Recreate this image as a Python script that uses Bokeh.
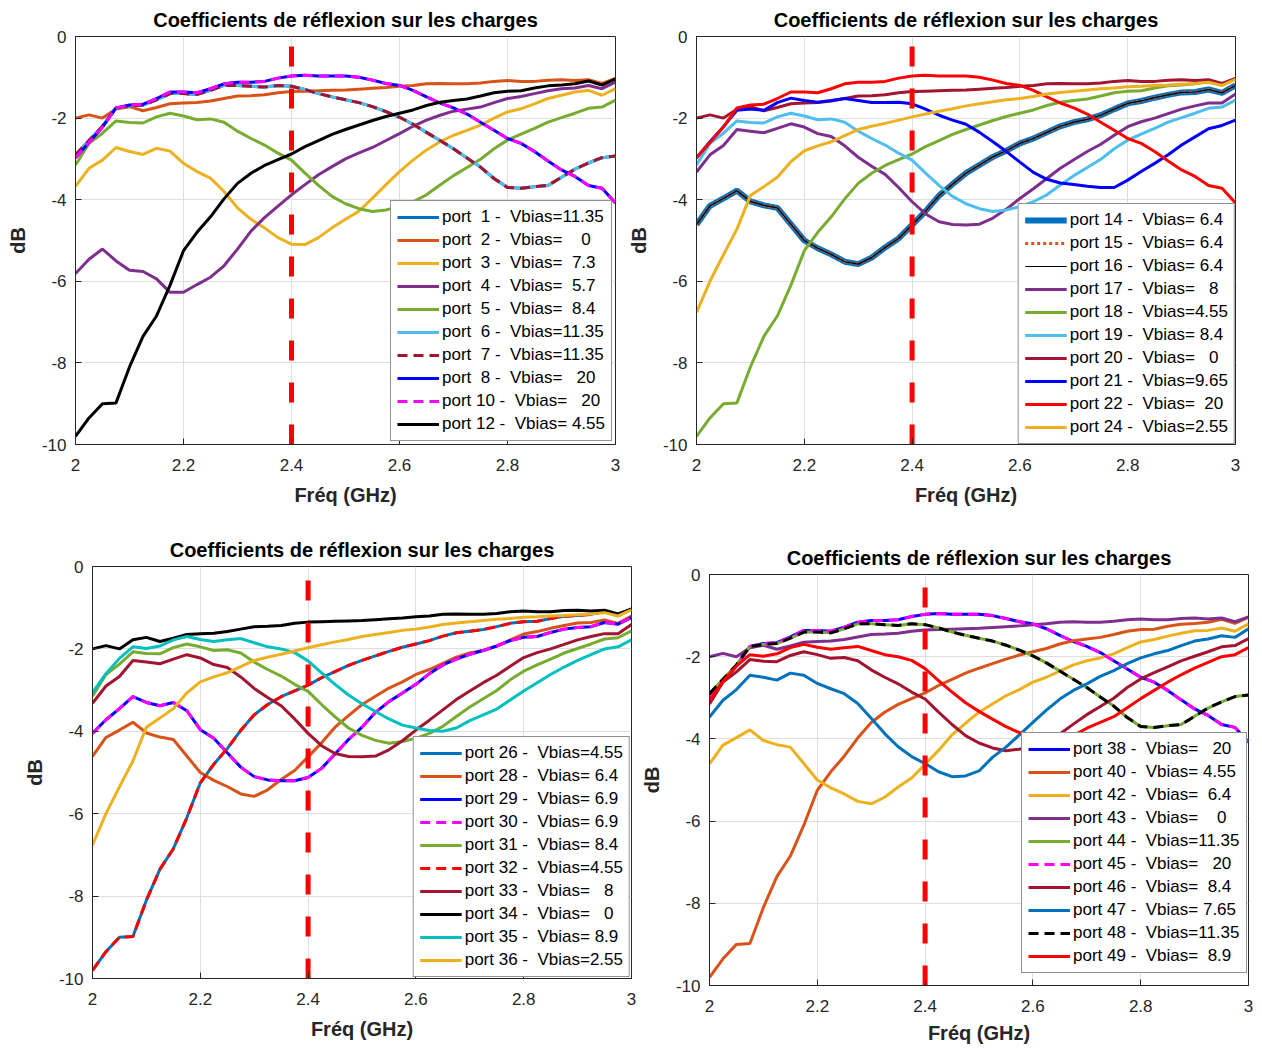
import numpy as np
from bokeh.plotting import figure
from bokeh.layouts import column, row
from bokeh.models import Range1d, FixedTicker, Legend, LegendItem, Spacer
from bokeh.embed import file_html
from bokeh.resources import INLINE

# ---------------- data ----------------
freq = np.linspace(2.0, 3.0, 41)  # GHz sampling grid

v20 = [-2.97, -2.6, -2.22, -1.75, -1.68, -1.66, -1.52, -1.36, -1.36, -1.38, -1.28, -1.16, -1.12, -1.12,
       -1.10, -1.02, -0.97, -0.95, -0.97, -0.97, -0.97, -1.0, -1.07, -1.15, -1.2, -1.32, -1.48, -1.63,
       -1.75, -1.9, -2.1, -2.3, -2.5, -2.62, -2.82, -3.05, -3.27, -3.43, -3.65, -3.72, -4.08]
v1135 = [-2.9, -2.55, -2.2, -1.75, -1.7, -1.68, -1.55, -1.4, -1.4, -1.42, -1.32, -1.2, -1.2, -1.22,
         -1.24, -1.2, -1.22, -1.3, -1.4, -1.48, -1.55, -1.62, -1.72, -1.84, -1.98, -2.15, -2.35, -2.55,
         -2.75, -2.98, -3.2, -3.48, -3.7, -3.72, -3.68, -3.65, -3.45, -3.25, -3.1, -2.97, -2.93]
v0 = [-2.0, -1.92, -2.0, -1.78, -1.72, -1.82, -1.74, -1.65, -1.63, -1.62, -1.58, -1.52, -1.46, -1.45,
      -1.43, -1.38, -1.35, -1.34, -1.33, -1.32, -1.31, -1.29, -1.27, -1.25, -1.22, -1.2, -1.16, -1.15,
      -1.16, -1.16, -1.14, -1.1, -1.08, -1.1, -1.1, -1.07, -1.06, -1.08, -1.06, -1.15, -1.03]
v455 = [-9.8, -9.35, -9.0, -8.98, -8.1, -7.35, -6.85, -6.1, -5.25, -4.8, -4.42, -3.98, -3.6, -3.35,
        -3.16, -3.02, -2.88, -2.7, -2.55, -2.4, -2.28, -2.17, -2.06, -1.96, -1.88, -1.8, -1.69, -1.61,
        -1.57, -1.53, -1.46, -1.38, -1.34, -1.33, -1.26, -1.21, -1.19, -1.16, -1.09, -1.19, -1.04]
v255 = [-6.76, -6.0, -5.35, -4.72, -3.9, -3.68, -3.45, -3.07, -2.8, -2.68, -2.58, -2.43, -2.28, -2.2,
        -2.13, -2.05, -1.97, -1.9, -1.83, -1.77, -1.7, -1.65, -1.6, -1.55, -1.52, -1.47, -1.41, -1.37,
        -1.34, -1.31, -1.28, -1.26, -1.23, -1.22, -1.2, -1.19, -1.17, -1.15, -1.12, -1.2, -1.05]
v64 = [-4.61, -4.15, -3.97, -3.78, -4.04, -4.14, -4.2, -4.6, -5.0, -5.19, -5.34, -5.52, -5.58, -5.42,
       -5.17, -4.95, -4.62, -4.28, -3.9, -3.62, -3.35, -3.15, -2.95, -2.8, -2.62, -2.5, -2.35, -2.2,
       -2.1, -2.03, -1.93, -1.78, -1.64, -1.58, -1.5, -1.43, -1.37, -1.36, -1.3, -1.38, -1.2]
v73 = [-3.67, -3.23, -3.03, -2.72, -2.82, -2.89, -2.74, -2.81, -3.11, -3.31, -3.47, -3.8, -4.2, -4.48,
       -4.69, -4.93, -5.09, -5.1, -4.93, -4.69, -4.48, -4.28, -3.96, -3.63, -3.31, -3.03, -2.78, -2.58,
       -2.42, -2.3, -2.17, -2.0, -1.85, -1.77, -1.65, -1.52, -1.44, -1.36, -1.32, -1.44, -1.28]
v57 = [-5.81, -5.46, -5.21, -5.5, -5.73, -5.76, -5.94, -6.27, -6.27, -6.08, -5.9, -5.62, -5.21, -4.77,
       -4.44, -4.16, -3.88, -3.63, -3.39, -3.19, -3.0, -2.85, -2.72, -2.55, -2.38, -2.2, -2.05, -1.93,
       -1.83, -1.78, -1.73, -1.62, -1.52, -1.47, -1.4, -1.33, -1.28, -1.26, -1.2, -1.28, -1.12]
v84 = [-3.15, -2.62, -2.37, -2.07, -2.11, -2.12, -1.97, -1.88, -1.95, -2.04, -2.02, -2.1, -2.32, -2.5,
       -2.66, -2.86, -3.03, -3.35, -3.65, -3.92, -4.1, -4.22, -4.29, -4.25, -4.17, -4.05, -3.88, -3.64,
       -3.41, -3.21, -3.01, -2.75, -2.54, -2.39, -2.25, -2.1, -1.99, -1.88, -1.76, -1.73, -1.56]
v8 = [-3.32, -2.9, -2.67, -2.28, -2.32, -2.36, -2.25, -2.14, -2.22, -2.38, -2.45, -2.68, -2.96, -3.18,
      -3.38, -3.7, -4.05, -4.35, -4.54, -4.61, -4.62, -4.6, -4.45, -4.23, -3.97, -3.73, -3.48, -3.23,
      -3.02, -2.82, -2.64, -2.42, -2.21, -2.09, -2.0, -1.89, -1.78, -1.7, -1.63, -1.63, -1.41]
v965 = [-2.97, -2.58, -2.21, -1.81, -1.78, -1.81, -1.62, -1.51, -1.57, -1.61, -1.57, -1.52, -1.57, -1.62,
        -1.62, -1.61, -1.65, -1.78, -1.93, -2.05, -2.15, -2.35, -2.58, -2.82, -3.08, -3.33, -3.5, -3.59,
        -3.63, -3.67, -3.7, -3.7, -3.52, -3.31, -3.11, -2.9, -2.66, -2.46, -2.26, -2.18, -2.05]
v69 = [-4.05, -3.72, -3.45, -3.16, -3.3, -3.38, -3.3, -3.5, -3.96, -4.17, -4.52, -4.87, -5.1, -5.18,
       -5.2, -5.2, -5.12, -4.9, -4.55, -4.2, -3.9, -3.54, -3.28, -3.07, -2.86, -2.6, -2.39, -2.25,
       -2.13, -2.04, -1.93, -1.8, -1.72, -1.7, -1.6, -1.52, -1.48, -1.46, -1.36, -1.4, -1.24]
v89 = [-3.06, -2.6, -2.23, -1.95, -1.99, -1.93, -1.78, -1.7, -1.77, -1.82, -1.78, -1.75, -1.85, -1.95,
       -2.0, -2.09, -2.29, -2.58, -2.86, -3.12, -3.33, -3.52, -3.7, -3.85, -3.92, -3.98, -4.0, -3.92,
       -3.74, -3.6, -3.46, -3.24, -3.02, -2.82, -2.62, -2.44, -2.28, -2.14, -2.0, -1.95, -1.78]
v765 = [-3.47, -3.06, -2.8, -2.45, -2.5, -2.57, -2.4, -2.45, -2.65, -2.78, -2.9, -3.14, -3.5, -3.87,
        -4.19, -4.43, -4.6, -4.8, -4.92, -4.9, -4.78, -4.45, -4.2, -3.9, -3.6, -3.3, -3.03, -2.82,
        -2.66, -2.48, -2.34, -2.17, -2.03, -1.93, -1.85, -1.73, -1.62, -1.57, -1.49, -1.53, -1.32]

marker_freq = [2.4, 2.4]
marker_db = [-10, 0]

x_ticks = [2, 2.2, 2.4, 2.6, 2.8, 3]
x_tick_labels = ["2", "2.2", "2.4", "2.6", "2.8", "3"]
y_ticks = [-10, -8, -6, -4, -2, 0]
y_tick_labels = ["-10", "-8", "-6", "-4", "-2", "0"]

TITLE = "Coefficients de réflexion sur les charges"

# MATLAB colours
C_BLUE = "#0072BD"; C_ORANGE = "#D95319"; C_YELLOW = "#EDB120"; C_PURPLE = "#7E2F8E"
C_GREEN = "#77AC30"; C_LBLUE = "#4DBEEE"; C_DRED = "#A2142F"
C_B = "#0000FF"; C_M = "#FF00FF"; C_K = "#000000"; C_R = "#FF0000"; C_C = "#00BFBF"

S = "solid"; D = "10 6"; DOT = "3 3"

panel1 = [
    ("port  1 -  Vbias=11.35", v1135, C_BLUE, 3, S),
    ("port  2 -  Vbias=    0", v0, C_ORANGE, 3, S),
    ("port  3 -  Vbias=  7.3", v73, C_YELLOW, 3, S),
    ("port  4 -  Vbias=  5.7", v57, C_PURPLE, 3, S),
    ("port  5 -  Vbias=  8.4", v84, C_GREEN, 3, S),
    ("port  6 -  Vbias=11.35", v1135, C_LBLUE, 3, S),
    ("port  7 -  Vbias=11.35", v1135, C_DRED, 3, D),
    ("port  8 -  Vbias=   20", v20, C_B, 3, S),
    ("port 10 -  Vbias=   20", v20, C_M, 3, D),
    ("port 12 -  Vbias= 4.55", v455, C_K, 3, S),
]
panel2 = [
    ("port 14 -  Vbias= 6.4", v64, C_BLUE, 6, S),
    ("port 15 -  Vbias= 6.4", v64, C_ORANGE, 3, DOT),
    ("port 16 -  Vbias= 6.4", v64, C_K, 1.2, S),
    ("port 17 -  Vbias=   8", v8, C_PURPLE, 3, S),
    ("port 18 -  Vbias=4.55", v455, C_GREEN, 3, S),
    ("port 19 -  Vbias= 8.4", v84, C_LBLUE, 3, S),
    ("port 20 -  Vbias=   0", v0, C_DRED, 3, S),
    ("port 21 -  Vbias=9.65", v965, C_B, 3, S),
    ("port 22 -  Vbias=  20", v20, C_R, 3, S),
    ("port 24 -  Vbias=2.55", v255, C_YELLOW, 3, S),
]
panel3 = [
    ("port 26 -  Vbias=4.55", v455, C_BLUE, 3, S),
    ("port 28 -  Vbias= 6.4", v64, C_ORANGE, 3, S),
    ("port 29 -  Vbias= 6.9", v69, C_B, 3, S),
    ("port 30 -  Vbias= 6.9", v69, C_M, 3, D),
    ("port 31 -  Vbias= 8.4", v84, C_GREEN, 3, S),
    ("port 32 -  Vbias=4.55", v455, C_R, 3, D),
    ("port 33 -  Vbias=   8", v8, C_DRED, 3, S),
    ("port 34 -  Vbias=   0", v0, C_K, 3, S),
    ("port 35 -  Vbias= 8.9", v89, C_C, 3, S),
    ("port 36 -  Vbias=2.55", v255, C_YELLOW, 3, S),
]
panel4 = [
    ("port 38 -  Vbias=   20", v20, C_B, 3, S),
    ("port 40 -  Vbias= 4.55", v455, C_ORANGE, 3, S),
    ("port 42 -  Vbias=  6.4", v64, C_YELLOW, 3, S),
    ("port 43 -  Vbias=    0", v0, C_PURPLE, 3, S),
    ("port 44 -  Vbias=11.35", v1135, C_GREEN, 3, S),
    ("port 45 -  Vbias=   20", v20, C_M, 3, D),
    ("port 46 -  Vbias=  8.4", v84, C_DRED, 3, S),
    ("port 47 -  Vbias= 7.65", v765, C_BLUE, 3, S),
    ("port 48 -  Vbias=11.35", v1135, C_K, 3, D),
    ("port 49 -  Vbias=  8.9", v89, C_R, 3, S),
]

FONT = "Liberation Sans"
AX = "#262626"


def make_panel(series, width, height, left, right, top, bottom, legend_loc, legend_margin,
               xlab_standoff=10):
    p = figure(width=width, height=height, output_backend="svg", toolbar_location=None,
               x_range=Range1d(2, 3), y_range=Range1d(-10, 0), title=TITLE,
               min_border_left=left, min_border_right=right, min_border_top=top,
               min_border_bottom=bottom, background_fill_color="white",
               border_fill_color="white")
    p.title.text_font = FONT
    p.title.text_font_size = "20px"
    p.title.text_font_style = "bold"
    p.title.text_color = "#000000"
    p.title.align = "center"
    p.title.offset = 0
    p.title.standoff = 12

    items = []
    for label, data, color, lw, dash in series:
        r = p.line(freq, data, line_color=color, line_width=lw, line_dash=dash)
        items.append(LegendItem(label=label, renderers=[r]))
    p.line(marker_freq, marker_db, line_color="#FF0000", line_width=5, line_dash="20 22")

    p.xaxis.ticker = FixedTicker(ticks=x_ticks)
    p.xaxis.major_label_overrides = dict(zip(x_ticks, x_tick_labels))
    p.yaxis.ticker = FixedTicker(ticks=y_ticks)
    p.yaxis.major_label_overrides = dict(zip(y_ticks, y_tick_labels))
    p.xaxis.axis_label = "Fréq (GHz)"
    p.yaxis.axis_label = "dB"
    for ax in (p.xaxis[0], p.yaxis[0]):
        ax.axis_label_text_font = FONT
        ax.axis_label_text_font_size = "20px"
        ax.axis_label_text_font_style = "bold"
        ax.axis_label_text_color = AX
        ax.major_label_text_font = FONT
        ax.major_label_text_font_size = "17px"
        ax.major_label_text_color = AX
        ax.major_tick_in = 6
        ax.major_tick_out = 0
        ax.minor_tick_line_color = None
        ax.major_tick_line_color = AX
        ax.axis_line_color = AX
    p.yaxis.major_label_standoff = 9
    p.yaxis.axis_label_standoff = 10
    p.xaxis.major_label_standoff = 14
    p.xaxis.axis_label_standoff = xlab_standoff

    p.grid.grid_line_color = "#DEDEDE"
    p.grid.grid_line_width = 1
    p.outline_line_color = AX
    p.outline_line_width = 1
    p.outline_line_alpha = 1

    leg = Legend(items=items, location=legend_loc, margin=legend_margin)
    leg.label_text_font = FONT
    leg.label_text_font_size = "17px"
    leg.label_text_color = "#000000"
    leg.glyph_width = 42
    leg.glyph_height = 20
    leg.label_height = 20
    leg.label_standoff = 3
    leg.spacing = 3
    leg.padding = 6
    leg.border_line_color = AX
    leg.border_line_width = 1
    leg.background_fill_alpha = 1
    p.add_layout(leg)
    return p


p1 = make_panel(panel1, 623, 514, 75, 8, 34, 70, "bottom_right", 3)
p2 = make_panel(panel2, 631, 514, 73, 19, 34, 70, "bottom_right", 0)
p3 = make_panel(panel3, 636, 532, 92, 5, 52, 68, "bottom_right", 1)
p4 = make_panel(panel4, 618, 529, 73, 6, 52, 66, (312, 12), 0, xlab_standoff=7)

layout = column(row(p1, p2, spacing=0),
                row(p3, column(Spacer(width=618, height=8), p4, spacing=0), spacing=0),
                spacing=0)

with open("out.html", "w") as f:
    f.write(file_html(layout, INLINE))
